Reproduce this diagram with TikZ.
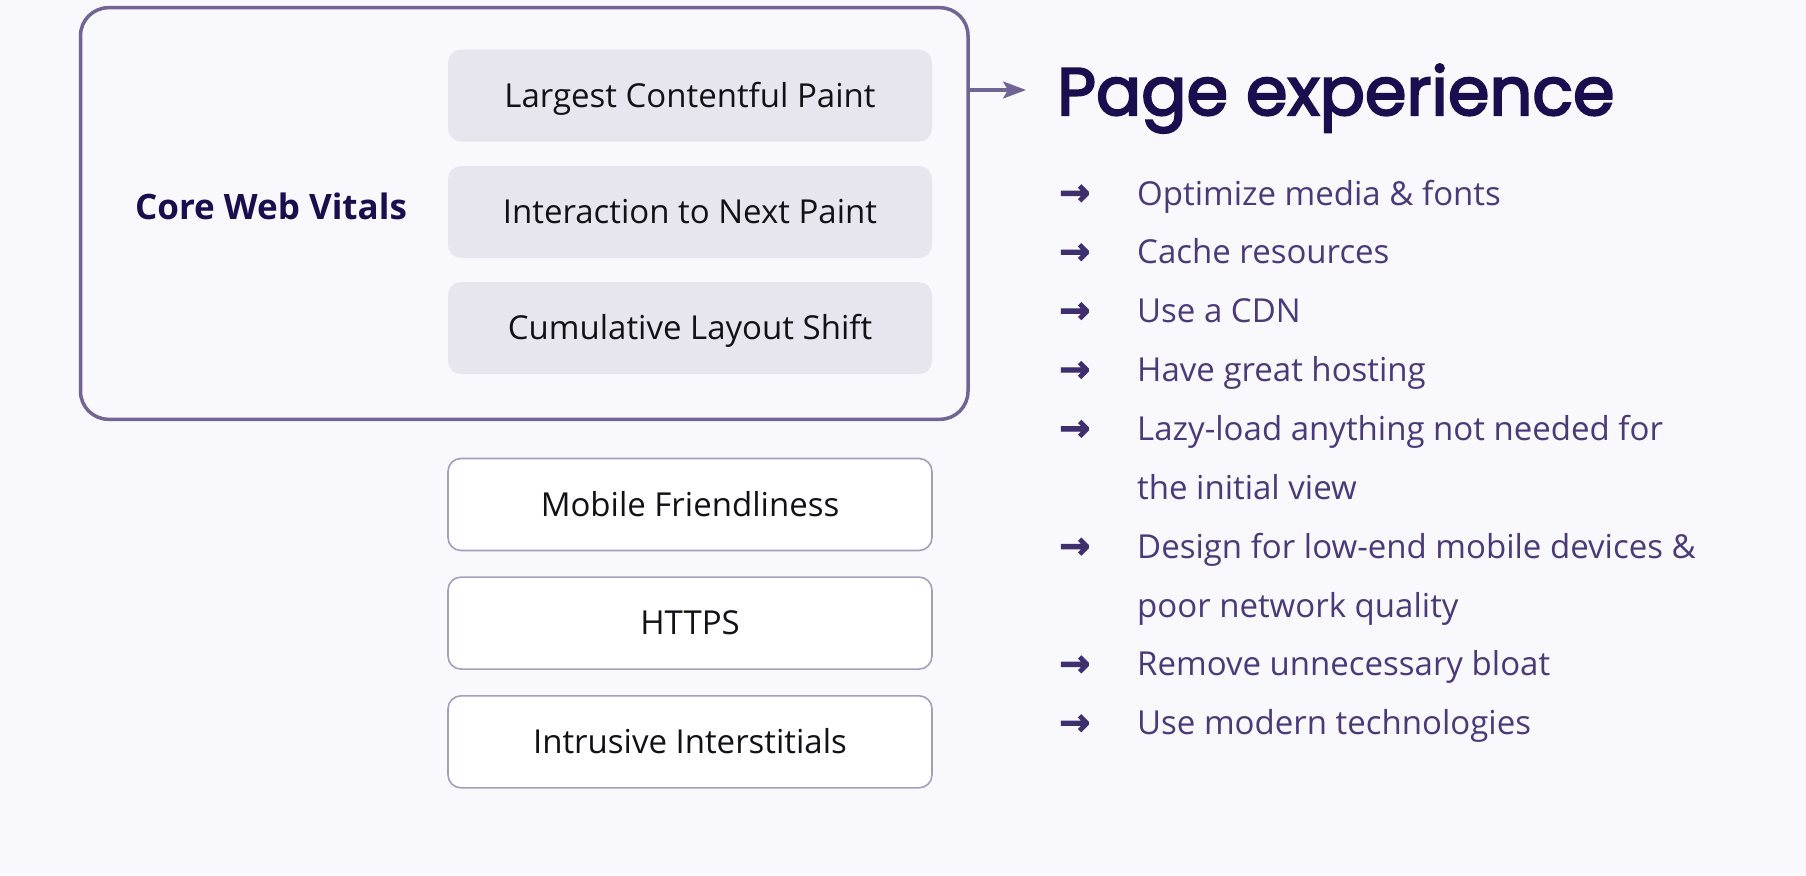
\documentclass[tikz,border=0pt]{standalone}
\usepackage{fontspec}
\setmainfont{Open Sans}
\newfontfamily\titlefont{Poppins}[FakeBold=3]
\newfontfamily\arrowfont{DejaVu Sans}[BoldFeatures={FakeBold=3}]
\usetikzlibrary{arrows.meta}
\definecolor{bg}{HTML}{F9F8FD}
\definecolor{outline}{HTML}{716595}
\definecolor{greyfill}{HTML}{E7E6EE}
\definecolor{wborder}{HTML}{A59FBE}
\definecolor{boxtext}{HTML}{111116}
\definecolor{navy}{HTML}{1A0E4F}
\definecolor{listcol}{HTML}{4A3A7A}
\definecolor{bulletcol}{HTML}{3F2F6E}
\tikzset{
  outerbox/.style={draw=outline, line width=3.5pt, rounded corners=28pt,
    minimum width=887.5pt, minimum height=411.6pt, inner sep=0pt},
  boxbase/.style={rounded corners=13pt, minimum width=484pt, minimum height=92pt,
    inner sep=0pt, text height=23.5pt, text depth=0pt,
    font=\fontsize{33}{40}\selectfont, text=boxtext},
  greybox/.style={boxbase, fill=greyfill},
  whitebox/.style={boxbase, fill=white, draw=wborder, line width=1.6pt},
  cwvlabel/.style={font=\fontsize{35}{42}\selectfont\bfseries, text=navy, inner sep=0pt},
  titlestyle/.style={font=\fontsize{67}{78}\selectfont\titlefont, text=navy, inner sep=0pt, anchor=base west},
  listitem/.style={font=\fontsize{33}{40}\selectfont, text=listcol, inner sep=0pt, anchor=base west},
  bullet/.style={font=\fontsize{37}{40}\selectfont\arrowfont\bfseries, text=bulletcol, inner sep=0pt, anchor=base west},
  linkarrow/.style={draw=outline, line width=3.5pt, -{Stealth[length=23pt,width=17pt,inset=5pt]}}
}
\begin{document}
\begin{tikzpicture}[x=1pt,y=-1pt]
\fill[bg] (0,0) rectangle (1806,875);
\useasboundingbox (0,0) rectangle (1806,875);

\node[outerbox] (cwv) at (524.25,213.5) {};
\node[cwvlabel] (cwvtext) at (271,206) {Core Web Vitals};

\node[greybox] (lcp) at (690,95.6) {Largest Contentful Paint};
\node[greybox] (inp) at (690,212) {Interaction to Next Paint};
\node[greybox] (cls) at (690,328.1) {Cumulative Layout Shift};

\node[whitebox] (mob) at (690,504.5) {Mobile Friendliness};
\node[whitebox] (https) at (690,623.1) {HTTPS};
\node[whitebox] (intr) at (690,741.8) {Intrusive Interstitials};

\coordinate (ae) at (1026,90);
\draw[linkarrow] (cwv.east |- ae) -- (ae);

\node[titlestyle] (title) at (1057,115) {Page experience};

\node[bullet] (b1) at (1059,205) {→};
\node[listitem] (l1) at (1137,205) {Optimize media \& fonts};
\node[bullet] (b2) at (1059,263.87) {→};
\node[listitem] (l2) at (1137,263.87) {Cache resources};
\node[bullet] (b3) at (1059,322.74) {→};
\node[listitem] (l3) at (1137,322.74) {Use a CDN};
\node[bullet] (b4) at (1059,381.61) {→};
\node[listitem] (l4) at (1137,381.61) {Have great hosting};
\node[bullet] (b5) at (1059,440.48) {→};
\node[listitem] (l5) at (1137,440.48) {Lazy-load anything not needed for};
\node[listitem] (l5b) at (1137,499.35) {the initial view};
\node[bullet] (b6) at (1059,558.22) {→};
\node[listitem] (l6) at (1137,558.22) {Design for low-end mobile devices \&};
\node[listitem] (l6b) at (1137,617.09) {poor network quality};
\node[bullet] (b7) at (1059,675.96) {→};
\node[listitem] (l7) at (1137,675.96) {Remove unnecessary bloat};
\node[bullet] (b8) at (1059,734.83) {→};
\node[listitem] (l8) at (1137,734.83) {Use modern technologies};
\end{tikzpicture}
\end{document}
